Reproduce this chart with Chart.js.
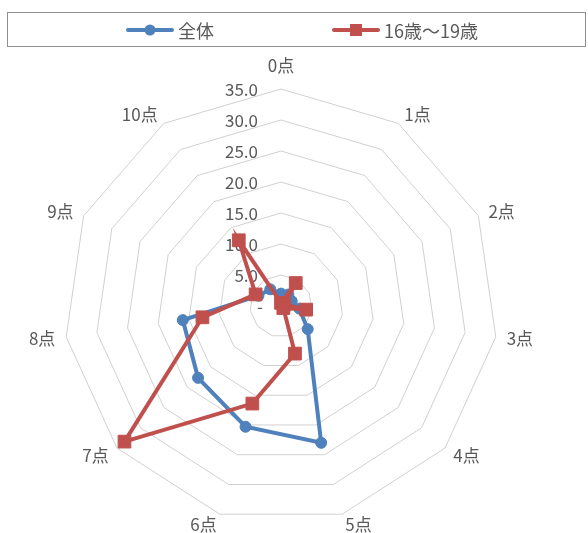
<!DOCTYPE html>
<html>
<head>
<meta charset="utf-8">
<script src="https://cdn.jsdelivr.net/npm/chart.js@4"></script>
<style>
    body { margin: 0; background: #ffffff; }
</style>
</head>
<body>
<canvas id="chart" width="588" height="533"></canvas>
<script>
const categories = ["0点", "1点", "2点", "3点", "4点", "5点", "6点", "7点", "8点", "9点", "10点"];
const zentai = [2.0, 2.2, 1.9, 3.0, 5.7, 23.0, 20.3, 17.7, 16.0, 4.0, 3.2];
const teen = [0.5, 4.4, 0.6, 4.1, 0.5, 8.0, 16.4, 33.4, 12.8, 4.5, 12.6];
const seriesNames = ["全体", "16歳～19歳"];
const scaleMax = 35;
const scaleStep = 5;

const BLUE = "#4f81bd";
const RED = "#c0504d";
const TEXT = "#595959";
const FONT = '"Noto Sans CJK JP", "Noto Sans", sans-serif';

// tick labels and category labels, drawn under the series like Excel does
const labelPlugin = {
    id: "labels",
    beforeDatasetsDraw(chart) {
        const ctx = chart.ctx;
        const r = chart.scales.r;
        ctx.save();
        ctx.fillStyle = TEXT;
        ctx.font = "17px " + FONT;
        ctx.textBaseline = "middle";

        r.ticks.forEach(t => {
            const y = r.yCenter - r.getDistanceFromCenterForValue(t.value);
            if (t.value === 0) {
                ctx.textAlign = "center";
                ctx.fillText("-", r.xCenter - 21, y + 1);
            } else {
                ctx.textAlign = "right";
                ctx.fillText(t.value.toFixed(1), r.xCenter - 23, y + 1);
            }
        });

        chart.data.labels.forEach((label, i) => {
            const p = r.getPointPosition(i, r.drawingArea + 11);
            const deg = Math.round(i * 360 / chart.data.labels.length);
            let y = p.y;
            if (deg === 0) {
                ctx.textAlign = "center";
                y = p.y - 12;
            } else if (deg < 180) {
                ctx.textAlign = "left";
            } else {
                ctx.textAlign = "right";
            }
            ctx.fillText(label, p.x, y);
        });
        ctx.restore();
    }
};

// boxed legend with line + marker, as in the original
const legendPlugin = {
    id: "boxLegend",
    afterDraw(chart) {
        const ctx = chart.ctx;
        ctx.save();
        ctx.strokeStyle = "#8f8f8f";
        ctx.lineWidth = 1;
        ctx.strokeRect(7.5, 12.5, 578, 34);

        const y = 30;
        const items = [
            { x: 128, color: BLUE, marker: "circle", text: seriesNames[0] },
            { x: 334, color: RED, marker: "rect", text: seriesNames[1] }
        ];
        items.forEach(it => {
            ctx.strokeStyle = it.color;
            ctx.fillStyle = it.color;
            ctx.lineWidth = 4;
            ctx.lineCap = "round";
            ctx.beginPath();
            ctx.moveTo(it.x, y);
            ctx.lineTo(it.x + 44, y);
            ctx.stroke();
            if (it.marker === "circle") {
                ctx.beginPath();
                ctx.arc(it.x + 22, y, 5.5, 0, Math.PI * 2);
                ctx.fill();
            } else {
                ctx.fillRect(it.x + 22 - 6, y - 6, 12, 12);
            }
            ctx.fillStyle = TEXT;
            ctx.font = "18px " + FONT;
            ctx.textAlign = "left";
            ctx.textBaseline = "middle";
            ctx.fillText(it.text, it.x + 50, y + 1);
        });
        ctx.restore();
    }
};

const chart = new Chart(
    document.getElementById("chart"),
    {
        type: "radar",
        data: {
            labels: categories,
            datasets: [
                {
                    label: seriesNames[0],
                    data: zentai,
                    borderColor: BLUE,
                    backgroundColor: BLUE,
                    borderWidth: 4,
                    pointStyle: "circle",
                    pointRadius: 5.5,
                    pointBorderWidth: 1,
                    fill: false,
                    order: 1
                },
                {
                    label: seriesNames[1],
                    data: teen,
                    borderColor: RED,
                    backgroundColor: RED,
                    borderWidth: 4,
                    pointStyle: "rect",
                    pointRadius: 9,
                    pointBorderWidth: 1,
                    fill: false,
                    order: 0
                }
            ]
        },
        options: {
            responsive: false,
            animation: false,
            layout: {
                padding: { top: 89, bottom: 10, left: 64, right: 90 }
            },
            elements: {
                line: { tension: 0 }
            },
            plugins: {
                legend: { display: false },
                tooltip: { enabled: false }
            },
            scales: {
                r: {
                    min: 0,
                    max: scaleMax,
                    ticks: { stepSize: scaleStep, display: false },
                    grid: { color: "#d0d0d0", lineWidth: 1 },
                    angleLines: { display: false },
                    pointLabels: { display: false }
                }
            }
        },
        plugins: [labelPlugin, legendPlugin]
    }
);
</script>
</body>
</html>
